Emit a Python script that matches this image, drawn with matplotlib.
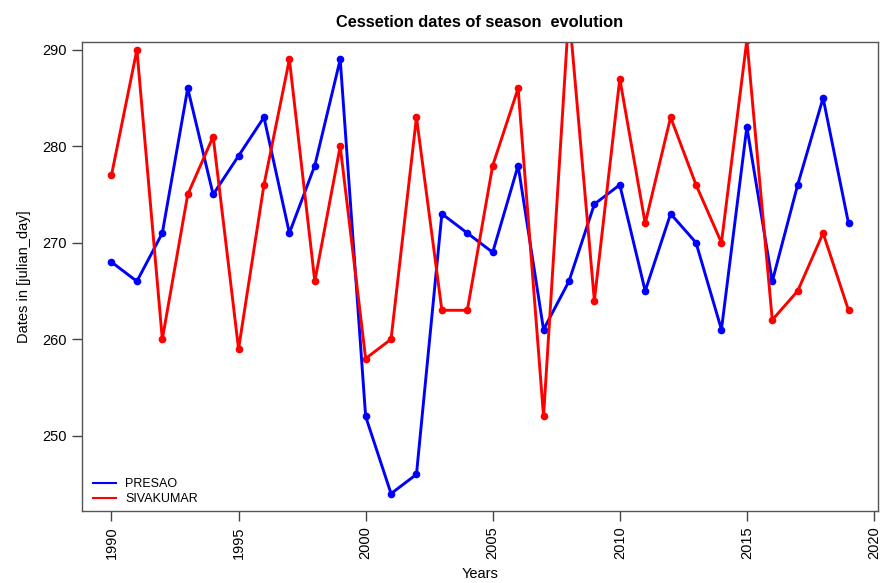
import numpy as np
import matplotlib
matplotlib.use("Agg")
import matplotlib.pyplot as plt

plt.rcParams["font.family"] = ["Liberation Sans", "DejaVu Sans"]

years = list(range(1990, 2020))
presao = [268, 266, 271, 286, 275, 279, 283, 271, 278, 289,
          252, 244, 246, 273, 271, 269, 278, 261, 266, 274,
          276, 265, 273, 270, 261, 282, 266, 276, 285, 272]
sivakumar = [277, 290, 260, 275, 281, 259, 276, 289, 266, 280,
             258, 260, 283, 263, 263, 278, 286, 252, 294, 264,
             287, 272, 283, 276, 270, 291, 262, 265, 271, 263]

x_ticks = [1990, 1995, 2000, 2005, 2010, 2015, 2020]
y_ticks = [250, 260, 270, 280, 290]

fig = plt.figure(figsize=(8.85, 5.83), dpi=100)
ax = fig.add_axes([82 / 885, 1 - 511 / 583, 796 / 885, 469 / 583])

ax.plot(years, presao, color="blue", lw=2.1, marker="o", ms=4.5, label="PRESAO")
ax.plot(years, sivakumar, color="red", lw=2.1, marker="o", ms=4.5, label="SIVAKUMAR")

# R-style 4% padding, y range from first series
ax.set_xlim(1988.84, 2020.16)
lo, hi = min(presao), max(presao)
pad = (hi - lo) * 0.04
ax.set_ylim(lo - pad, hi + pad)

ax.set_xticks(x_ticks)
ax.set_xticklabels([str(t) for t in x_ticks], rotation=90)
ax.set_yticks(y_ticks)
ax.tick_params(direction="out", length=7, width=1, color="#444444",
               labelsize=10.5, pad=4)
for s in ax.spines.values():
    s.set_color("#555555")
    s.set_linewidth(1)

ax.set_title("Cessetion dates of season  evolution", fontsize=11.8,
             fontweight="bold", pad=11)
ax.set_xlabel("Years", fontsize=10.5, labelpad=6)
ax.set_ylabel("Dates in [julian_day]", fontsize=10.5, labelpad=8)

ax.legend(loc="lower left", frameon=False, fontsize=9, handlelength=1.85,
          handletextpad=0.75, labelspacing=0.25, borderaxespad=0.2,
          bbox_to_anchor=(0.004, -0.004))
for h in ax.get_legend().legend_handles:
    h.set_marker("")
    h.set_linewidth(1.5)

fig.savefig("out.png", dpi=100)
